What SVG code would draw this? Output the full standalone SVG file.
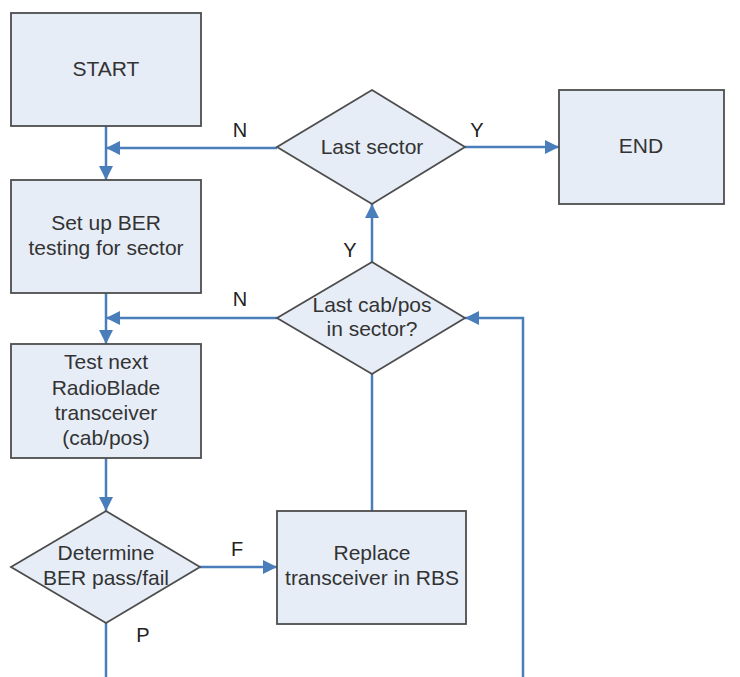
<svg xmlns="http://www.w3.org/2000/svg" width="740" height="677" viewBox="0 0 740 677">
<defs>
<marker id="ah" viewBox="0 0 14 14" refX="14" refY="7" markerWidth="14" markerHeight="14" markerUnits="userSpaceOnUse" orient="auto">
<path d="M0,0 L14,7 L0,14 Z" fill="#4a7ebb"/>
</marker>
<style>
.box{fill:#e6edf7;stroke:#4d4d4d;stroke-width:1.8}
.t{font-family:"Liberation Sans",Arial,sans-serif;font-size:21px;fill:#333;text-anchor:middle}
.l{font-family:"Liberation Sans",Arial,sans-serif;font-size:20px;fill:#222;text-anchor:middle}
.c{fill:none;stroke:#4a7ebb;stroke-width:2.5}
</style>
</defs>
<rect width="740" height="677" fill="#fff"/>
<g id="connectors">
<path class="c" d="M106,126 V180" marker-end="url(#ah)"/>
<path class="c" d="M277,148 H106" marker-end="url(#ah)"/>
<path class="c" d="M106,293 V344" marker-end="url(#ah)"/>
<path class="c" d="M277,318 H106" marker-end="url(#ah)"/>
<path class="c" d="M106,458 V511" marker-end="url(#ah)"/>
<path class="c" d="M200,567 H277" marker-end="url(#ah)"/>
<path class="c" d="M106,623 V677"/>
<path class="c" d="M372,511 V374"/>
<path class="c" d="M372,262 V204" marker-end="url(#ah)"/>
<path class="c" d="M465,147 H559" marker-end="url(#ah)"/>
<path class="c" d="M523,677 V318 H465" marker-end="url(#ah)"/>
<text class="l" x="240" y="137">N</text>
<text class="l" x="240" y="306">N</text>
<text class="l" x="477" y="137">Y</text>
<text class="l" x="350" y="257">Y</text>
<text class="l" x="237" y="556">F</text>
<text class="l" x="143" y="642">P</text>
</g>
<g id="start">
<rect class="box" x="11" y="13" width="190" height="113"/>
<text class="t" x="106" y="76">START</text>
</g>
<g id="setup">
<rect class="box" x="11" y="180" width="190" height="113"/>
<text class="t" x="106" y="230">Set up BER</text>
<text class="t" x="106" y="255">testing for sector</text>
</g>
<g id="testnext">
<rect class="box" x="11" y="344" width="190" height="114"/>
<text class="t" x="106" y="369">Test next</text>
<text class="t" x="106" y="395">RadioBlade</text>
<text class="t" x="106" y="420">transceiver</text>
<text class="t" x="106" y="445">(cab/pos)</text>
</g>
<g id="determine">
<path class="box" d="M106,511 L200,567 L106,623 L11,567 Z"/>
<text class="t" x="106" y="560">Determine</text>
<text class="t" x="106" y="585">BER pass/fail</text>
</g>
<g id="replace">
<rect class="box" x="277" y="511" width="189" height="113"/>
<text class="t" x="372" y="560">Replace</text>
<text class="t" x="372" y="585">transceiver in RBS</text>
</g>
<g id="lastcab">
<path class="box" d="M372,262 L465,318 L372,374 L277,318 Z"/>
<text class="t" x="372" y="312">Last cab/pos</text>
<text class="t" x="372" y="336">in sector?</text>
</g>
<g id="lastsector">
<path class="box" d="M372,90 L465,147 L372,204 L277,147 Z"/>
<text class="t" x="372" y="154">Last sector</text>
</g>
<g id="end">
<rect class="box" x="559" y="90" width="165" height="114"/>
<text class="t" x="641" y="153">END</text>
</g>
</svg>
